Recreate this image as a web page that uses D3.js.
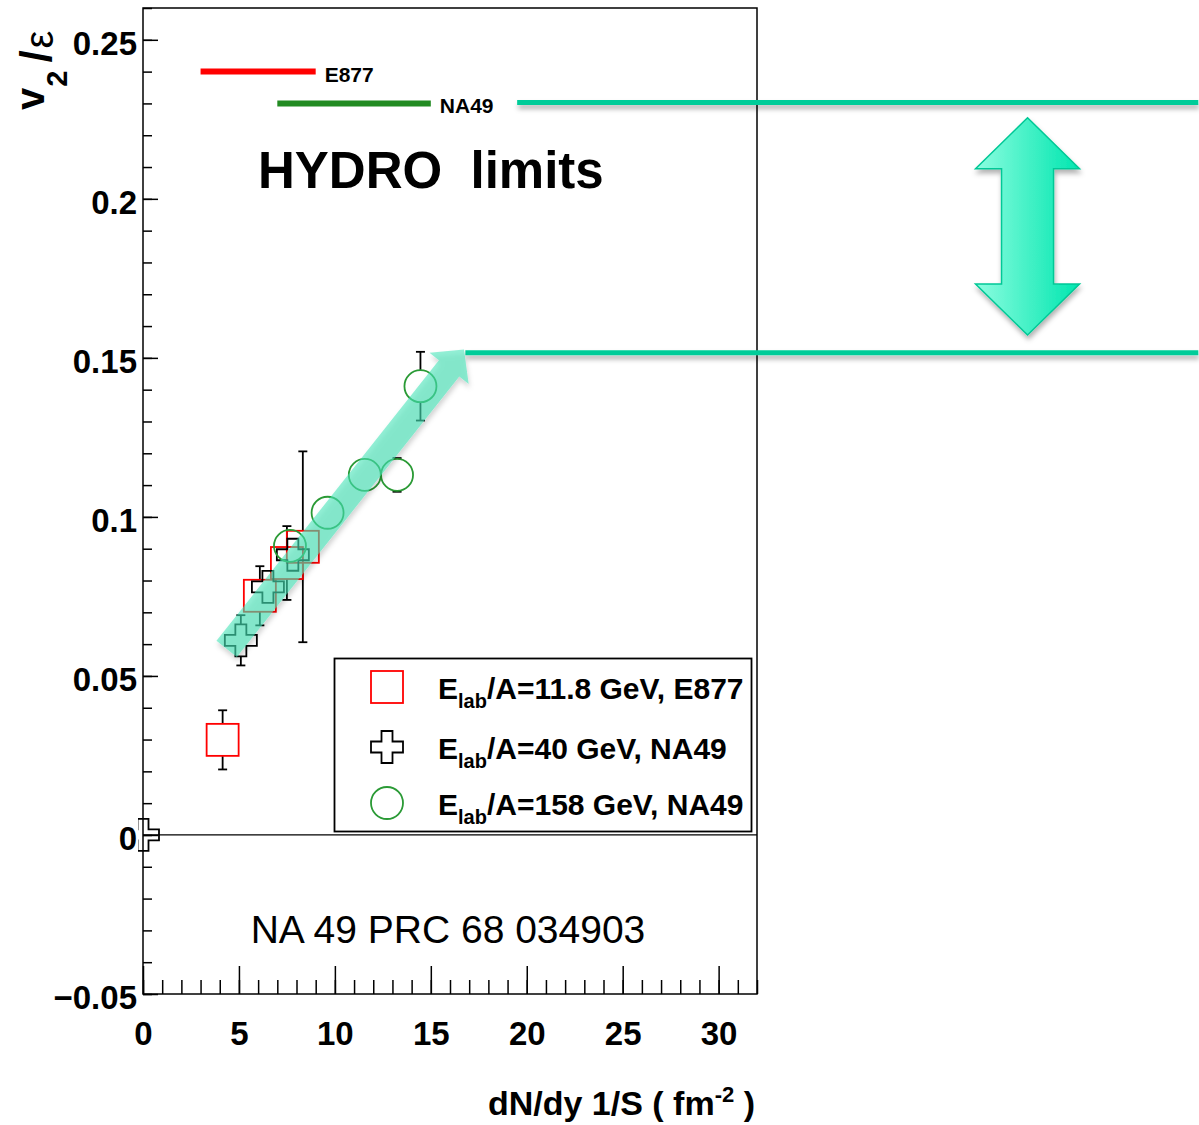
<!DOCTYPE html>
<html lang="en">
<head>
<meta charset="utf-8">
<title>v2/eps vs dN/dy 1/S</title>
<script src="https://d3js.org/d3.v7.min.js"></script>
<style>
  body { margin: 0; background: #fff; }
  svg text { font-family: "Liberation Sans", Arial, Helvetica, sans-serif; fill: #000; }
  .axis line { stroke: #000; stroke-width: 1.5px; }
  .axis text { font-size: 33px; font-weight: bold; }
</style>
</head>
<body>
<div id="chart"></div>
<script>
var width = 1199, height = 1125;
var frame = {left: 143, right: 757, top: 8, bottom: 994};

// E877, Elab/A = 11.8 GeV
var e877X   = [4.15, 6.09, 7.50, 8.33];
var e877Y   = [0.0299, 0.0752, 0.0855, 0.0906];
var e877Err = [0.0093, 0.0093, 0.0116, 0.0300];

// NA49, Elab/A = 40 GeV
var na40X   = [0.0, 5.10, 6.51, 7.81];
var na40Y   = [0.0, 0.0612, 0.0780, 0.0881];
var na40Err = [0.0, 0.0079, 0.004, 0.004];

// NA49, Elab/A = 158 GeV
var na158X   = [7.66, 9.62, 11.56, 13.24, 14.46];
var na158Y   = [0.0909, 0.1013, 0.1132, 0.1132, 0.1411];
var na158Err = [0.004, 0.004, 0.004, 0.0053, 0.0108];

// hydro limit lines
var limitNames = ["E877", "NA49"];
var limitY     = [0.24, 0.23];
var limitX0    = [3.0, 7.0];
var limitX1    = [9.0, 15.0];
var limitColors = ["#ff0000", "#228b22"];

// teal band (hydro range) and the trend arrow
var bandY     = [0.2303, 0.1516];
var bandX0    = [19.5, 16.8];
var bandX1    = [55, 55];
var trendFrom = [4.36, 0.0585];
var trendTo   = [16.73, 0.1526];
var bandArrowX = 46.1;
var bandArrowY = [0.2255, 0.1572];

var xTicks = [0, 5, 10, 15, 20, 25, 30];
var yTicks = [-0.05, 0, 0.05, 0.1, 0.15, 0.2, 0.25];
var yTickLabels = ["\u22120.05", "0", "0.05", "0.1", "0.15", "0.2", "0.25"];

var legendLabels = [
  ["E", "lab", "/A=11.8 GeV, E877"],
  ["E", "lab", "/A=40 GeV, NA49"],
  ["E", "lab", "/A=158 GeV, NA49"]
];

var x = d3.scaleLinear().domain([0, 32]).range([frame.left, frame.right]);
var y = d3.scaleLinear().domain([-0.05, 0.26]).range([frame.bottom, frame.top]);

var svg = d3.select("#chart").append("svg")
    .attr("width", width)
    .attr("height", height);

var defs = svg.append("defs");
var shadow = defs.append("filter").attr("id", "shadow")
    .attr("filterUnits", "userSpaceOnUse")
    .attr("x", 0).attr("y", 0).attr("width", width).attr("height", height);
shadow.append("feDropShadow")
    .attr("dx", 1).attr("dy", 4).attr("stdDeviation", 2.5)
    .attr("flood-color", "#000").attr("flood-opacity", 0.3);

var grad = defs.append("linearGradient").attr("id", "arrowFill")
    .attr("x1", "0%").attr("x2", "100%").attr("y1", "0%").attr("y2", "0%");
grad.append("stop").attr("offset", "0%").attr("stop-color", "#8dfde0");
grad.append("stop").attr("offset", "55%").attr("stop-color", "#3ef0c4");
grad.append("stop").attr("offset", "100%").attr("stop-color", "#00e6b0");

defs.append("clipPath").attr("id", "plotClip")
  .append("rect")
    .attr("x", frame.left - 5).attr("y", frame.top)
    .attr("width", frame.right - frame.left + 5)
    .attr("height", frame.bottom - frame.top);

// ---- axes ----
var yMinor = d3.range(-5, 27).map(function(i) { return i / 100; });
var xMinor = d3.range(0, 33);

svg.append("g").attr("class", "axis")
    .attr("transform", "translate(" + frame.left + ",0)")
    .call(d3.axisLeft(y).tickValues(yMinor).tickSize(-9).tickSizeOuter(0).tickFormat(""))
    .call(function(g) { g.select(".domain").remove(); });

svg.append("g").attr("class", "axis")
    .attr("transform", "translate(" + frame.left + ",0)")
    .call(d3.axisLeft(y).tickValues(yTicks).tickSize(-15).tickSizeOuter(0).tickPadding(6)
        .tickFormat(function(d, i) { return yTickLabels[i]; }))
    .call(function(g) { g.select(".domain").remove(); })
    .selectAll("text").attr("dy", "0.45em");

svg.append("g").attr("class", "axis")
    .attr("transform", "translate(0," + frame.bottom + ")")
    .call(d3.axisBottom(x).tickValues(xMinor).tickSize(-14).tickSizeOuter(0).tickFormat(""))
    .call(function(g) { g.select(".domain").remove(); });

svg.append("g").attr("class", "axis")
    .attr("transform", "translate(0," + frame.bottom + ")")
    .call(d3.axisBottom(x).tickValues(xTicks).tickSize(-28).tickSizeOuter(0).tickPadding(28))
    .call(function(g) { g.select(".domain").remove(); });

// frame
svg.append("rect")
    .attr("x", frame.left).attr("y", frame.top)
    .attr("width", frame.right - frame.left).attr("height", frame.bottom - frame.top)
    .attr("fill", "none").attr("stroke", "#000").attr("stroke-width", 1.5);

// zero line
svg.append("line")
    .attr("x1", x(0)).attr("x2", x(32)).attr("y1", y(0)).attr("y2", y(0))
    .attr("stroke", "#000").attr("stroke-width", 1.3);

// axis titles
var xt = svg.append("text")
    .attr("x", 755).attr("y", 1115)
    .attr("text-anchor", "end")
    .style("font-size", "34px").style("font-weight", "bold");
xt.append("tspan").text("dN/dy 1/S ( fm");
xt.append("tspan").attr("dy", -13).style("font-size", "22px").text("-2");
xt.append("tspan").attr("dy", 13).text(" )");

var yt = svg.append("text")
    .attr("transform", "translate(44,110) rotate(-90)")
    .style("font-size", "40px").style("font-weight", "bold");
yt.append("tspan").text("v");
yt.append("tspan").attr("dy", 23).attr("dx", 1).style("font-size", "29px").text("2");
yt.append("tspan").attr("dy", -16).attr("dx", 8).style("font-size", "44px").text("/");
yt.append("tspan").attr("dy", 2).attr("dx", 2).style("font-size", "40px").style("font-weight", "normal").text("\u03b5");

// ---- markers ----
var half = 16, arm = 5.5;
function crossPath(s, a) {
  return "M" + (-a) + "," + (-s) + "H" + a + "V" + (-a) + "H" + s + "V" + a + "H" + a +
         "V" + s + "H" + (-a) + "V" + a + "H" + (-s) + "V" + (-a) + "H" + (-a) + "Z";
}

var plot = svg.append("g").attr("clip-path", "url(#plotClip)");

function errorBars(xs, ys, errs) {
  xs.forEach(function(xv, i) {
    var px = x(xv), py = y(ys[i]);
    var e = y(ys[i] - errs[i]) - py;
    if (e <= half) return;
    [-1, 1].forEach(function(s) {
      plot.append("line")
          .attr("x1", px).attr("x2", px)
          .attr("y1", py + s * half).attr("y2", py + s * e)
          .attr("stroke", "#000").attr("stroke-width", 1.8);
      plot.append("line")
          .attr("x1", px - 4.5).attr("x2", px + 4.5)
          .attr("y1", py + s * e).attr("y2", py + s * e)
          .attr("stroke", "#000").attr("stroke-width", 1.8);
    });
  });
}

errorBars(e877X, e877Y, e877Err);
errorBars(na40X, na40Y, na40Err);
errorBars(na158X, na158Y, na158Err);

plot.selectAll(".sq").data(e877X).enter().append("rect")
    .attr("x", function(d) { return x(d) - half; })
    .attr("y", function(d, i) { return y(e877Y[i]) - half; })
    .attr("width", 2 * half).attr("height", 2 * half)
    .attr("fill", "none").attr("stroke", "#ff0000").attr("stroke-width", 1.8);

plot.selectAll(".cr").data(na40X).enter().append("path")
    .attr("d", crossPath(half, arm))
    .attr("transform", function(d, i) { return "translate(" + x(d) + "," + y(na40Y[i]) + ")"; })
    .attr("fill", "none").attr("stroke", "#000").attr("stroke-width", 1.8);

plot.selectAll(".ci").data(na158X).enter().append("circle")
    .attr("cx", function(d) { return x(d); })
    .attr("cy", function(d, i) { return y(na158Y[i]); })
    .attr("r", half)
    .attr("fill", "none").attr("stroke", "#2a9a35").attr("stroke-width", 1.8);

// ---- legend ----
var lg = svg.append("g");
lg.append("rect")
    .attr("x", 334.5).attr("y", 658.5).attr("width", 417).attr("height", 173)
    .attr("fill", "#fff").attr("stroke", "#000").attr("stroke-width", 1.8);
var rowsY = [687, 747, 803];
lg.append("rect").attr("x", 387 - half).attr("y", rowsY[0] - half)
    .attr("width", 2 * half).attr("height", 2 * half)
    .attr("fill", "none").attr("stroke", "#ff0000").attr("stroke-width", 1.8);
lg.append("path").attr("d", crossPath(half, arm))
    .attr("transform", "translate(387," + rowsY[1] + ")")
    .attr("fill", "none").attr("stroke", "#000").attr("stroke-width", 1.8);
lg.append("circle").attr("cx", 387).attr("cy", rowsY[2]).attr("r", half)
    .attr("fill", "none").attr("stroke", "#2a9a35").attr("stroke-width", 1.8);
legendLabels.forEach(function(l, i) {
  var t = lg.append("text")
      .attr("x", 438).attr("y", rowsY[i] + 12)
      .style("font-size", "30px").style("font-weight", "bold");
  t.append("tspan").text(l[0]);
  t.append("tspan").attr("dy", 9).style("font-size", "20px").text(l[1]);
  t.append("tspan").attr("dy", -9).text(l[2]);
});

// ---- hydro limit lines ----
limitNames.forEach(function(n, i) {
  svg.append("line")
      .attr("x1", x(limitX0[i])).attr("x2", x(limitX1[i]))
      .attr("y1", y(limitY[i])).attr("y2", y(limitY[i]))
      .attr("stroke", limitColors[i]).attr("stroke-width", 6);
  svg.append("text")
      .attr("x", x(limitX1[i]) + 9).attr("y", y(limitY[i]) + 10)
      .style("font-size", "21px").style("font-weight", "bold")
      .text(n);
});

svg.append("text")
    .attr("x", 258).attr("y", 188)
    .attr("xml:space", "preserve")
    .style("font-size", "51px").style("font-weight", "bold")
    .text("HYDRO  limits");

svg.append("text")
    .attr("x", 448).attr("y", 943)
    .attr("text-anchor", "middle")
    .style("font-size", "39px")
    .text("NA 49 PRC 68 034903");

// ---- teal band lines ----
bandY.forEach(function(b, i) {
  svg.append("line")
      .attr("x1", x(bandX0[i])).attr("x2", x(bandX1[i]))
      .attr("y1", y(b)).attr("y2", y(b))
      .attr("stroke", "#00cc99").attr("stroke-width", 5)
      .attr("filter", "url(#shadow)");
});

// double arrow between the band lines
(function() {
  var cx = x(bandArrowX), t = y(bandArrowY[0]), b = y(bandArrowY[1]);
  var hl = 51, hw = 52, sw = 26;
  var pts = [[cx, t], [cx + hw, t + hl], [cx + sw, t + hl], [cx + sw, b - hl], [cx + hw, b - hl],
             [cx, b], [cx - hw, b - hl], [cx - sw, b - hl], [cx - sw, t + hl], [cx - hw, t + hl]];
  svg.append("path")
      .attr("d", "M" + pts.map(function(p) { return p.join(","); }).join("L") + "Z")
      .attr("fill", "url(#arrowFill)")
      .attr("stroke", "#00c896").attr("stroke-width", 1.5)
      .attr("filter", "url(#shadow)");
})();

// diagonal trend arrow
(function() {
  var x0 = x(trendFrom[0]), y0 = y(trendFrom[1]);
  var x1 = x(trendTo[0]), y1 = y(trendTo[1]);
  var dx = x1 - x0, dy = y1 - y0, len = Math.sqrt(dx * dx + dy * dy);
  var ux = dx / len, uy = dy / len, nx = -uy, ny = ux;
  var sw = 13, hw = 25, hl = 24;
  var bx = x1 - ux * hl, by = y1 - uy * hl;
  var pts = [
    [x0 + nx * sw, y0 + ny * sw], [bx + nx * sw, by + ny * sw], [bx + nx * hw, by + ny * hw],
    [x1, y1],
    [bx - nx * hw, by - ny * hw], [bx - nx * sw, by - ny * sw], [x0 - nx * sw, y0 - ny * sw]
  ];
  svg.append("path")
      .attr("d", "M" + pts.map(function(p) { return p.join(","); }).join("L") + "Z")
      .attr("fill", "#45e6b9").attr("fill-opacity", 0.58)
      .attr("filter", "url(#shadow)");
})();
</script>
</body>
</html>
